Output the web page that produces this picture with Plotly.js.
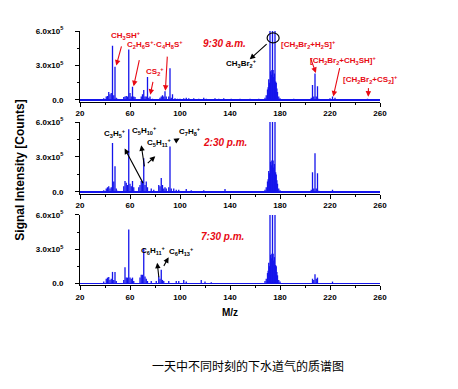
<!DOCTYPE html>
<html>
<head>
<meta charset="utf-8">
<script src="https://cdn.plot.ly/plotly-3.0.1.min.js"></script>
<style>html,body{margin:0;padding:0;background:#fff;}#chart{width:458px;height:389px;}</style>
</head>
<body>
<div id="chart"></div>
<script>
// ---- data (m/z and signal intensity, x10^5 counts) ----
// 9:30 a.m.
const mzAM = [39,41,42,43,44,45,46,47,48,49,50,55,56,57,58,59,60,61,62,63,64,69,70,71,72,73,74,75,76,78,84,85,86,87,88,89,91,92,93,94,96,98,100,103,105,107,111,115,119,121,128,131,135,141,148,156,163,
  168,169,170,170.5,171,171.5,172,172.5,173,173.5,174,174.5,175,175.5,176,176.5,177,177.5,178,179,180,191,205,206,207,208,209,210,211,220,222,224,250];
const intAM = [0.15,0.3,0.35,0.7,0.5,0.6,4.72,0.4,2.9,0.2,0.1,0.25,0.3,0.35,0.3,4.4,0.6,0.3,1.16,0.3,0.25,0.3,0.5,0.87,0.3,0.3,2.0,0.2,0.3,0.1,0.2,0.3,0.4,0.3,0.75,0.3,0.3,2.75,0.2,0.5,0.15,0.1,0.1,0.15,0.2,0.15,0.15,0.1,0.2,0.1,0.15,0.1,0.15,0.1,0.1,0.1,0.1,
  0.2,0.4,0.9,1.1,1.8,1.5,8,2.5,2.2,2.6,8,2.6,2.0,2.3,8,1.6,1.5,1.0,0.7,0.3,0.15,0.1,0.2,1.3,0.3,2.3,0.3,1.2,0.1,0.15,0.3,0.2,0.1];
// 2:30 p.m.
const mzPM1 = [39,41,42,43,44,45,46,47,48,49,50,55,56,57,58,59,60,61,62,63,67,68,69,70,71,72,73,74,77,79,83,84,85,86,87,88,89,91,92,93,95,97,99,105,109,119,136,
  168,169,170,170.5,171,171.5,172,172.5,173,173.5,174,174.5,175,175.5,176,176.5,177,177.5,178,179,180,205,206,207,208,209,210,211,222];
const intPM1 = [0.15,0.3,0.4,0.5,0.3,0.4,4.2,0.9,2.2,0.3,0.1,0.5,0.95,0.8,0.6,5.37,0.7,0.5,0.95,0.4,0.4,0.6,0.95,0.9,2.9,0.6,0.9,0.4,0.3,0.2,0.6,0.5,1.2,0.6,0.3,0.4,0.3,0.4,3.9,0.3,0.3,0.2,0.2,0.25,0.15,0.15,0.25,
  0.2,0.4,0.9,1.1,1.8,1.6,8,2.6,2.3,2.7,8,2.7,2.1,2.4,8,1.7,1.5,1.0,0.7,0.3,0.15,0.2,1.7,0.3,3.33,0.3,1.6,0.1,0.2];
// 7:30 p.m.
const mzPM2 = [39,41,42,43,44,45,46,47,48,49,55,56,57,58,59,60,61,62,63,68,69,70,71,72,73,74,77,81,83,84,85,86,87,91,97,99,103,105,117,120,125,
  168,169,170,170.5,171,171.5,172,172.5,173,173.5,174,174.5,175,175.5,176,176.5,177,177.5,178,179,180,206,207,208,209,210,222];
const intPM2 = [0.15,0.4,0.5,0.55,0.3,0.4,1.0,0.3,1.0,0.2,0.3,1.4,0.5,0.5,4.72,0.5,0.4,0.5,0.2,0.5,0.75,0.75,3.1,0.6,0.4,0.2,0.2,0.2,0.6,0.4,1.2,0.3,0.2,0.2,0.2,0.2,0.3,0.15,0.3,0.15,0.1,
  0.2,0.4,0.9,1.1,1.8,1.5,8,2.5,2.2,2.6,8,2.6,2.0,2.3,8,1.6,1.5,1.0,0.7,0.3,0.15,0.4,0.3,0.8,0.4,0.5,0.15];
const yTickVals = [0, 3, 6];
const yTickText = ['0.0', '3.0x10<sup>5</sup>', '6.0x10<sup>5</sup>'];
const panelTimes = ['9:30 a.m.', '2:30 p.m.', '7:30 p.m.'];

const BLUE = 'rgb(20,20,235)';
const RED = 'rgb(232,10,20)';
const FONT = 'Liberation Sans, Arial, sans-serif';

function sticks(mz, h, xa, ya) {
  const x = [], y = [];
  mz.forEach((m, i) => { x.push(m, m, null); y.push(0, h[i], null); });
  return {type: 'scatter', mode: 'lines', x, y, xaxis: xa, yaxis: ya,
    line: {color: BLUE, width: 1.3}, hoverinfo: 'skip', showlegend: false, connectgaps: false};
}

const data = [
  sticks(mzAM, intAM, 'x', 'y'),
  sticks(mzPM1, intPM1, 'x2', 'y2'),
  sticks(mzPM2, intPM2, 'x3', 'y3')
];

function xax(anchor) {
  return {anchor, range: [20, 260], tick0: 20, dtick: 40, ticks: 'outside', ticklen: 4,
    tickwidth: 1, tickcolor: '#000', showline: true, linecolor: '#000', linewidth: 1,
    showgrid: false, zeroline: false, fixedrange: true,
    minor: {dtick: 20, tick0: 20, ticks: 'outside', ticklen: 2, tickcolor: '#000'},
    tickfont: {family: FONT, size: 8, color: '#000', weight: 'bold'}};
}
function yax(anchor, dom) {
  return {anchor, domain: dom, range: [-0.15, 6], tickmode: 'array', tickvals: yTickVals,
    ticktext: yTickText, ticks: 'outside', ticklen: 4, tickwidth: 1, tickcolor: '#000',
    showline: true, linecolor: '#000', linewidth: 1, showgrid: false,
    zeroline: true, zerolinecolor: BLUE, zerolinewidth: 1.5, fixedrange: true,
    ticklabelstandoff: 10,
    minor: {tickmode: 'array', tickvals: [1.5, 4.5], ticks: 'outside', ticklen: 2, tickcolor: '#000'},
    tickfont: {family: FONT, size: 8, color: '#000', weight: 'bold'}};
}

function label(text, x, y, n, color, size, extra) {
  return Object.assign({text, x, y, xref: n === 1 ? 'x' : 'x' + n, yref: n === 1 ? 'y' : 'y' + n,
    xanchor: 'center', yanchor: 'middle',
    showarrow: false, font: {family: FONT, size: size || 8, color, weight: 'bold'}}, extra || {});
}
function arrow(x, y, ax, ay, n, color) {
  const xr = n === 1 ? 'x' : 'x' + n, yr = n === 1 ? 'y' : 'y' + n;
  return {text: '', x, y, ax, ay, xref: xr, yref: yr, axref: xr, ayref: yr, showarrow: true,
    arrowhead: 2, arrowsize: 1, arrowwidth: 1.1, arrowcolor: color, standoff: 0, startstandoff: 0};
}

const K = '#000';
const annotations = [
  // panel 1
  label('CH<sub>3</sub>SH<sup>+</sup>', 56.5, 5.6, 1, RED),
  arrow(49, 3.0, 53.5, 4.8, 1, RED),
  label('C<sub>2</sub>H<sub>6</sub>S<sup>+</sup>·C<sub>4</sub>H<sub>8</sub>S<sup>+</sup>', 79.7, 4.8, 1, RED),
  arrow(62.9, 1.2, 67.7, 3.6, 1, RED),
  arrow(88.3, 0.8, 89.9, 3.9, 1, RED),
  label('CS<sub>2</sub><sup>+</sup>', 79.7, 2.5, 1, RED),
  arrow(76.2, 0.45, 78.6, 1.7, 1, RED),
  label('<i>' + panelTimes[0] + '</i>', 135.8, 4.95, 1, RED, 10),
  label('CH<sub>3</sub>Br<sub>2</sub><sup>+</sup>', 149.2, 3.2, 1, K),
  arrow(155.8, 3.54, 170.5, 4.98, 1, K),
  label('[CH<sub>2</sub>Br<sub>2</sub>+H<sub>2</sub>S]<sup>+</sup>', 202.5, 4.8, 1, RED),
  arrow(208.7, 2.35, 204, 3.77, 1, RED),
  label('[CH<sub>2</sub>Br<sub>2</sub>+CH<sub>3</sub>SH]<sup>+</sup>', 230.6, 3.4, 1, RED),
  arrow(222.6, 0.3, 228, 2.9, 1, RED),
  label('[CH<sub>2</sub>Br<sub>2</sub>+CS<sub>2</sub>]<sup>+</sup>', 252.6, 1.8, 1, RED),
  arrow(250.6, 0.29, 250.8, 1.16, 1, RED),
  // panel 2
  label('C<sub>3</sub>H<sub>5</sub><sup>+</sup>', 47.7, 5.0, 2, K),
  arrow(55.7, 3.73, 71.1, 0.63, 2, K),
  label('C<sub>5</sub>H<sub>10</sub><sup>+</sup>', 71.7, 5.3, 2, K),
  arrow(69, 4.0, 71.7, 2.07, 2, K),
  label('C<sub>5</sub>H<sub>11</sub><sup>+</sup>', 83.7, 4.2, 2, K),
  arrow(80.2, 3.07, 73, 2.35, 2, K),
  label('C<sub>7</sub>H<sub>8</sub><sup>+</sup>', 107.7, 5.2, 2, K),
  arrow(99.7, 4.6, 94.9, 4.3, 2, K),
  label('<i>' + panelTimes[1] + '</i>', 135.8, 4.2, 2, RED, 10),
  // panel 3
  label('C<sub>6</sub>H<sub>11</sub><sup>+</sup>', 78.4, 2.9, 3, K),
  arrow(81.8, 1.8, 83.2, 0.4, 3, K),
  label('C<sub>6</sub>H<sub>13</sub><sup>+</sup>', 101, 2.77, 3, K),
  arrow(90.9, 2.28, 86.4, 1.4, 3, K),
  label('<i>' + panelTimes[2] + '</i>', 134, 4.1, 3, RED, 10),
  // axis titles & caption
  {text: 'Signal Intensity [Counts]', xref: 'paper', yref: 'paper', x: -0.2, y: 0.45,
    xanchor: 'center', yanchor: 'middle',
    textangle: -90, showarrow: false, font: {family: FONT, size: 12, color: '#000', weight: 'bold'}},
  {text: 'M/z', xref: 'paper', yref: 'paper', x: 0.5, y: -0.11, xanchor: 'center', yanchor: 'middle',
    showarrow: false, font: {family: FONT, size: 10, color: '#000', weight: 'bold'}},
  {text: '一天中不同时刻的下水道气的质谱图', xref: 'paper', yref: 'paper', x: 0.56, y: -0.315,
    xanchor: 'center', yanchor: 'middle',
    showarrow: false, font: {family: 'Noto Sans CJK SC, sans-serif', size: 12, color: '#000'}}
];

const layout = {
  width: 458, height: 389,
  margin: {l: 80, r: 78, t: 31, b: 104},
  paper_bgcolor: '#fff', plot_bgcolor: '#fff',
  showlegend: false,
  xaxis: xax('y'), xaxis2: xax('y2'), xaxis3: xax('y3'),
  yaxis: yax('x', [0.7217, 1.0]),
  yaxis2: yax('x2', [0.3594, 0.6417]),
  yaxis3: yax('x3', [0.0, 0.2756]),
  annotations,
  shapes: [{type: 'circle', xref: 'x', yref: 'y', x0: 169.7, x1: 179.3, y0: 4.97, y1: 5.83,
    line: {color: '#000', width: 1.2}}]
};

Plotly.newPlot('chart', data, layout, {staticPlot: true, displayModeBar: false});
</script>
</body>
</html>
